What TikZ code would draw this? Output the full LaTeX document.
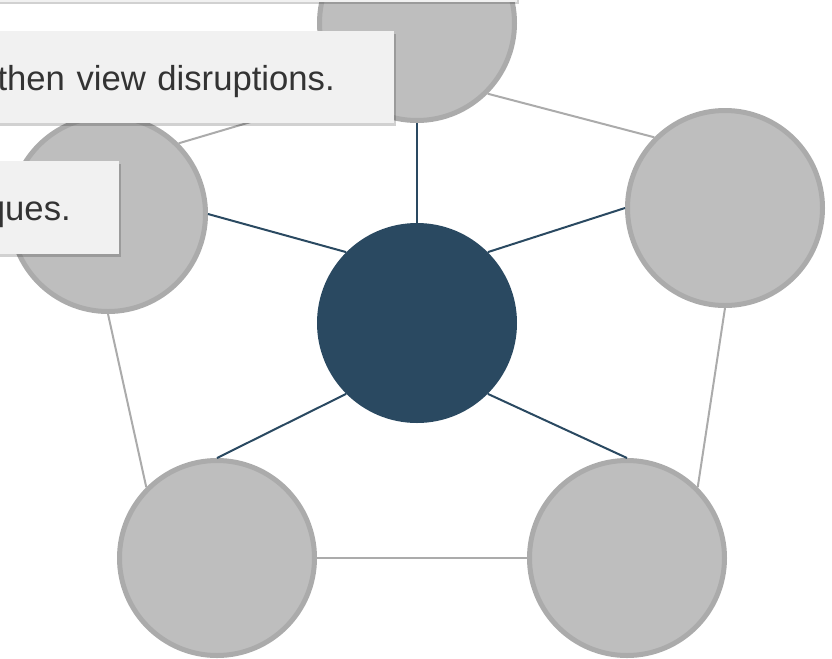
\documentclass[tikz,border=0pt]{standalone}
\usepackage{fontspec}
\setmainfont{Liberation Sans}
\usetikzlibrary{shadows}

\definecolor{hubblue}{HTML}{2A4961}
\definecolor{spokefill}{HTML}{BEBEBE}
\definecolor{rimgray}{HTML}{ABABAB}
\definecolor{tipfill}{HTML}{F1F1F1}
\definecolor{tiptext}{HTML}{333333}

\tikzset{
	hub/.style={circle, fill=hubblue, minimum size=150pt, inner sep=0pt},
	spoke/.style={circle, fill=spokefill, draw=rimgray, line width=3.75pt, minimum size=146.25pt, inner sep=0pt},
	hubline/.style={draw=hubblue, line width=1.5pt},
	rimline/.style={draw=rimgray, line width=1.5pt},
	tipbox/.style={rectangle, fill=tipfill, text=tiptext, inner ysep=0pt, align=right,
		font=\fontsize{26}{31}\selectfont, text height=19.5pt, text depth=0pt,
		drop shadow={shadow xshift=2pt, shadow yshift=-2pt, fill=black, opacity=0.18}}
}

\begin{document}
\begin{tikzpicture}[x=0.75pt, y=-0.75pt]
			%%%%% START %%%%%
			\useasboundingbox (0, 0) rectangle (832, 658);
			
			\node[hub] (hub) at (417, 323) {};
			
			\node[spoke] (top) at (417, 23) {};
			\node[spoke] (ur) at (725, 208) {};
			\node[spoke] (lr) at (627, 558) {};
			\node[spoke] (ll) at (217, 558) {};
			\node[spoke] (ul) at (108, 214) {};
			
			\draw[rimline] (top.south east) -- (ur.north west);
			\draw[rimline] (ur.south) -- (lr.north east);
			\draw[rimline] (lr.west) -- (ll.east);
			\draw[rimline] (ll.north west) -- (ul.south);
			\draw[rimline] (ul.north east) -- (top.south west);
			
			\draw[hubline] (hub.north) -- (top.south);
			\draw[hubline] (hub.north east) -- (ur.west);
			\draw[hubline] (hub.south east) -- (lr.north);
			\draw[hubline] (hub.south west) -- (ll.north);
			\draw[hubline] (hub.north west) -- (ul.east);
			
			\node[tipbox, anchor=south east, minimum width=525pt, minimum height=45pt] (tiptop) at (517, 2) {};
			\node[tipbox, anchor=north east, text width=357pt, inner xsep=44.25pt, minimum height=69pt] (tipone) at (394, 31) {then view disruptions.};
			\node[tipbox, anchor=north east, text width=225pt, inner xsep=36pt, minimum height=69.75pt] (tiptwo) at (119, 161) {ques.};
			
			%%%%% END %%%%%
\end{tikzpicture}
\end{document}
